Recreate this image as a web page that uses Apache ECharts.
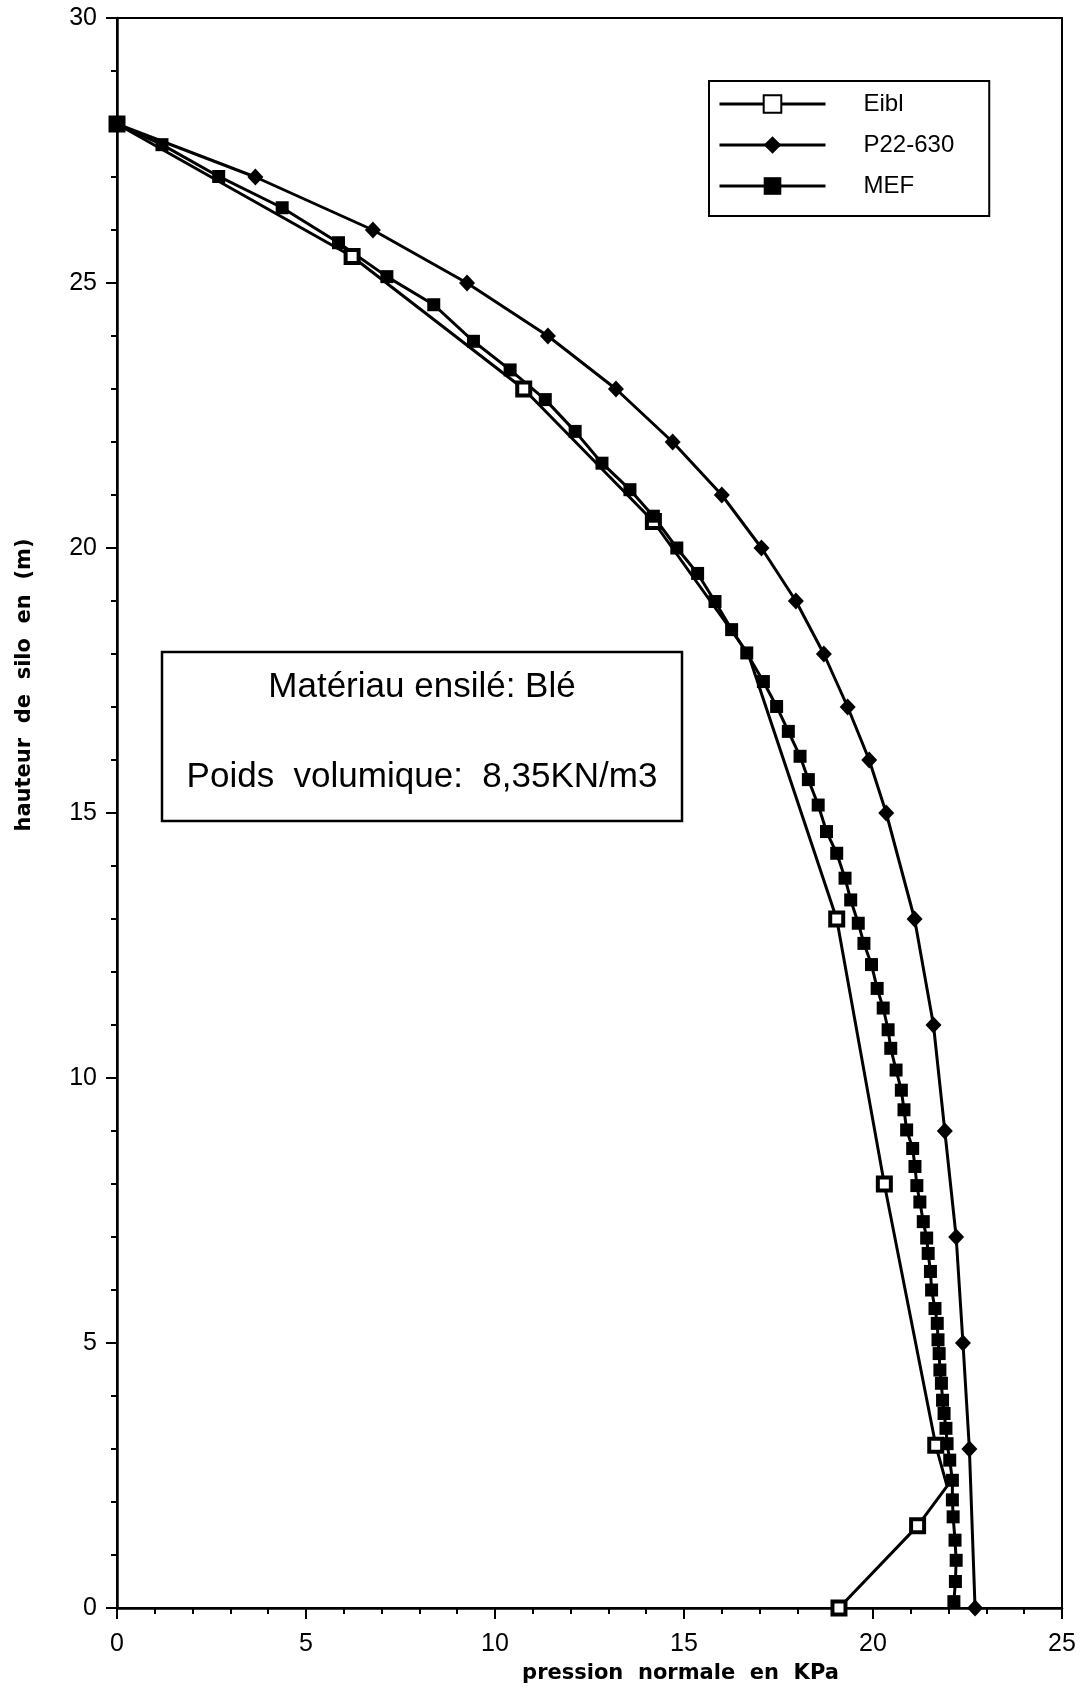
<!DOCTYPE html>
<html><head><meta charset="utf-8">
<script src="https://cdn.jsdelivr.net/npm/echarts@6/dist/echarts.min.js"></script>
<style>html,body{margin:0;padding:0;background:#fff}#c{width:1087px;height:1691px}</style>
</head><body><div id="c"></div>
<script>
// ---- data ----
const seriesNames = ['Eibl', 'P22-630', 'MEF'];

const eiblX = [0, 6.22, 10.76, 14.19, 16.70, 19.04, 20.30, 21.66, 21.96, 21.18, 19.10];
const eiblY = [28, 25.5, 23.0, 20.5, 18.0, 13.0, 8.0, 3.07, 2.30, 1.55, 0];
const eiblHiddenMarker = [false, false, false, false, true, false, false, false, true, false, false];

const p22X = [0, 3.66, 6.77, 9.26, 11.40, 13.20, 14.70, 16.00, 17.05, 17.96, 18.70, 19.33, 19.90, 20.35, 21.10, 21.60, 21.90, 22.20, 22.38, 22.55, 22.70];
const p22Y = [28, 27, 26, 25, 24, 23, 22, 21, 20, 19, 18, 17, 16, 15, 13, 11, 9, 7, 5, 3, 0];

const mefX = [0, 1.19, 2.69, 4.37, 5.86, 7.14, 8.38, 9.43, 10.40, 11.33, 12.12, 12.83, 13.57, 14.19, 14.81, 15.36, 15.82, 16.26, 16.66, 17.10, 17.45, 17.76, 18.07, 18.29, 18.55, 18.77, 19.04, 19.26, 19.41, 19.61, 19.76, 19.96, 20.11, 20.27, 20.40, 20.47, 20.61, 20.75, 20.82, 20.89, 21.05, 21.11, 21.16, 21.24, 21.33, 21.42, 21.46, 21.52, 21.55, 21.64, 21.70, 21.72, 21.75, 21.77, 21.81, 21.84, 21.88, 21.93, 21.96, 22.03, 22.10, 22.10, 22.12, 22.17, 22.20, 22.18, 22.14];
const mefY = [28, 27.61, 27.01, 26.42, 25.76, 25.12, 24.59, 23.90, 23.36, 22.80, 22.20, 21.60, 21.10, 20.60, 20.00, 19.52, 18.99, 18.46, 18.02, 17.48, 17.01, 16.54, 16.07, 15.63, 15.15, 14.65, 14.24, 13.77, 13.36, 12.92, 12.54, 12.14, 11.69, 11.32, 10.91, 10.56, 10.15, 9.77, 9.40, 9.02, 8.67, 8.33, 7.97, 7.66, 7.29, 6.98, 6.69, 6.35, 6.00, 5.65, 5.37, 5.06, 4.80, 4.49, 4.24, 3.92, 3.67, 3.39, 3.10, 2.79, 2.41, 2.04, 1.72, 1.28, 0.90, 0.50, 0.12];

const xTickLabels = ['0', '5', '10', '15', '20', '25'];
const yTickLabels = ['0', '5', '10', '15', '20', '25', '30'];
const xAxisTitle = 'pression  normale  en  KPa';
const yAxisTitle = 'hauteur  de  silo  en  (m)';
const noteLine1 = 'Matériau ensilé: Blé';
const noteLine2 = 'Poids  volumique:  8,35KN/m3';

// ---- build ----
const zip = (xs, ys) => xs.map((x, i) => [x, ys[i]]);
const F = 'Liberation Sans, Arial, Helvetica, sans-serif';
const FB = 'DejaVu Sans, sans-serif';

const axisCommon = {
  type: 'value',
  interval: 5,
  axisLine: { show: true, lineStyle: { color: '#000', width: 2.5 } },
  axisTick: { show: true, inside: false, length: 11, lineStyle: { color: '#000', width: 2 } },
  minorTick: { show: true, splitNumber: 5, length: 6, lineStyle: { color: '#000', width: 2 } },
  splitLine: { show: false },
  minorSplitLine: { show: false }
};

const eiblData = eiblX.map((x, i) => eiblHiddenMarker[i]
  ? { value: [x, eiblY[i]], symbol: 'none' }
  : { value: [x, eiblY[i]] });

const chart = echarts.init(document.getElementById('c'), null, { renderer: 'canvas' });
chart.setOption({
  animation: false,
  backgroundColor: '#fff',
  grid: { left: 117, right: 25, top: 18, bottom: 83, show: true, borderColor: '#000', borderWidth: 2, backgroundColor: 'transparent' },
  xAxis: Object.assign({}, axisCommon, {
    min: 0, max: 25,
    axisLabel: { fontSize: 25, fontFamily: F, color: '#000', margin: 24,
      formatter: v => xTickLabels[Math.round(v / 5)] },
    name: xAxisTitle, nameLocation: 'middle', nameGap: 55,
    nameTextStyle: { fontSize: 21, fontWeight: 'bold', fontFamily: FB, color: '#000', padding: [0, 0, 0, 182] }
  }),
  yAxis: Object.assign({}, axisCommon, {
    min: 0, max: 30,
    axisLabel: { fontSize: 25, fontFamily: F, color: '#000', margin: 20,
      formatter: v => yTickLabels[Math.round(v / 5)] },
    name: yAxisTitle, nameLocation: 'middle', nameGap: 82,
    nameTextStyle: { fontSize: 21, fontWeight: 'bold', fontFamily: FB, color: '#000', padding: [0, 0, 0, 256] }
  }),
  legend: {
    orient: 'vertical', left: 709, top: 81,
    itemWidth: 106, itemHeight: 22, itemGap: 17,
    padding: [11, 35, 18, 9],
    borderColor: '#000', borderWidth: 2, backgroundColor: '#fff',
    lineStyle: { width: 3 },
    textStyle: { fontSize: 24, fontFamily: F, color: '#000', lineHeight: 24, padding: [0, 0, 0, 33] },
    data: seriesNames
  },
  graphic: [
    { type: 'rect', shape: { x: 162, y: 652, width: 520, height: 169 },
      style: { fill: '#fff', stroke: '#000', lineWidth: 2.5 }, z: 10 },
    { type: 'text', x: 422, y: 687, z: 11,
      style: { text: noteLine1, fontSize: 35, fontFamily: F, fill: '#000', align: 'center', verticalAlign: 'middle' } },
    { type: 'text', x: 422, y: 777, z: 11,
      style: { text: noteLine2, fontSize: 35, fontFamily: F, fill: '#000', align: 'center', verticalAlign: 'middle' } }
  ],
  series: [
    { name: seriesNames[0], type: 'line', data: eiblData,
      symbol: 'rect', symbolSize: 13,
      lineStyle: { color: '#000', width: 3 },
      itemStyle: { color: '#fff', borderColor: '#000', borderWidth: 4 } },
    { name: seriesNames[1], type: 'line', data: zip(p22X, p22Y),
      symbol: 'diamond', symbolSize: [16, 17],
      lineStyle: { color: '#000', width: 3 },
      itemStyle: { color: '#000', borderWidth: 0 } },
    { name: seriesNames[2], type: 'line', data: zip(mefX, mefY),
      symbol: 'rect', symbolSize: 13,
      lineStyle: { color: '#000', width: 3 },
      itemStyle: { color: '#000', borderWidth: 0 } }
  ]
});
</script>
</body></html>
